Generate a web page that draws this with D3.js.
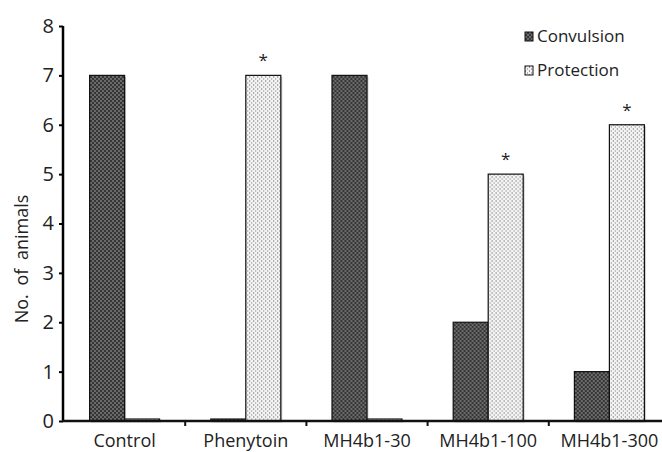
<!DOCTYPE html>
<html>
<head>
<meta charset="utf-8">
<script src="https://cdn.jsdelivr.net/npm/d3@7"></script>
<style>
  body { margin: 0; background: #fff; }
  text { font-family: "Open Sans", "Liberation Sans", sans-serif; fill: #222; }
</style>
</head>
<body>
<svg width="662" height="452"></svg>
<script>
const groups = ["Control", "Phenytoin", "MH4b1-30", "MH4b1-100", "MH4b1-300"];
const seriesNames = ["Convulsion", "Protection"];
const convulsion = [7, 0.04, 7, 2, 1];
const protection = [0.04, 7, 0.04, 5, 6];
const significant = [false, true, false, true, true];
const yTicks = [0, 1, 2, 3, 4, 5, 6, 7, 8];

const svg = d3.select("svg");
const defs = svg.append("defs");

// dark checker fill for convulsion
const p1 = defs.append("pattern").attr("id", "dark")
    .attr("patternUnits", "userSpaceOnUse").attr("width", 4).attr("height", 4);
p1.append("rect").attr("width", 4).attr("height", 4).attr("fill", "#363636");
p1.append("rect").attr("x", 0).attr("y", 0).attr("width", 2).attr("height", 2).attr("fill", "#6a6a6a");
p1.append("rect").attr("x", 2).attr("y", 2).attr("width", 2).attr("height", 2).attr("fill", "#6a6a6a");

// light dotted fill for protection
const p2 = defs.append("pattern").attr("id", "light")
    .attr("patternUnits", "userSpaceOnUse").attr("width", 4).attr("height", 4);
p2.append("rect").attr("width", 4).attr("height", 4).attr("fill", "#f4f4f4");
p2.append("rect").attr("x", 0).attr("y", 0).attr("width", 1).attr("height", 2).attr("fill", "#9a9a9a");
p2.append("rect").attr("x", 2).attr("y", 2).attr("width", 1).attr("height", 2).attr("fill", "#b0b0b0");

const fills = ["url(#dark)", "url(#light)"];

const x = d3.scaleBand().domain(groups).range([64, 670]);
const xSub = d3.scaleBand().domain(seriesNames).range([x.bandwidth() / 2 - 35, x.bandwidth() / 2 + 35]);
const y = d3.scaleLinear().domain([0, 8]).range([421, 26]);

const data = groups.map((g, i) => ({ g, vals: [convulsion[i], protection[i]], sig: significant[i] }));

const gGroup = svg.append("g").selectAll("g")
    .data(data).enter().append("g")
    .attr("transform", d => `translate(${x(d.g)},0)`);

const bars = gGroup.selectAll(".bar")
    .data(d => d.vals.map((v, k) => ({ k, v })))
    .enter();

// soft shadow
bars.append("rect")
    .attr("x", d => xSub(seriesNames[d.k]) + 1.5)
    .attr("y", d => y(d.v) + 1.5)
    .attr("width", xSub.bandwidth())
    .attr("height", d => y(0) - y(d.v))
    .attr("fill", "#cfcfcf");

bars.append("rect")
    .attr("x", d => xSub(seriesNames[d.k]))
    .attr("y", d => y(d.v))
    .attr("width", xSub.bandwidth())
    .attr("height", d => y(0) - y(d.v))
    .attr("fill", d => fills[d.k])
    .attr("stroke", "#111")
    .attr("stroke-width", 1.2);

gGroup.filter(d => d.sig).append("text")
    .attr("x", xSub("Protection") + xSub.bandwidth() / 2)
    .attr("y", d => y(d.vals[1]) - 9)
    .attr("text-anchor", "middle")
    .style("font-size", "17px")
    .text("*");

// axes
const yAxis = svg.append("g").attr("transform", "translate(63,0)")
    .call(d3.axisLeft(y).tickValues(yTicks).tickSize(4).tickFormat(d3.format("d")));
yAxis.select(".domain").attr("stroke-width", 2.5).attr("d", `M0,${y(8)}V${y(0)}`);
yAxis.selectAll(".tick line").attr("stroke-width", 2);
yAxis.selectAll(".tick text").attr("x", -9).style("font-size", "20px")
    .style("font-family", "'Open Sans', sans-serif").attr("fill", "#222");

const xAxis = svg.append("g").attr("transform", `translate(0,${y(0)})`);
xAxis.append("line").attr("x1", 62).attr("x2", 662).attr("stroke", "#111").attr("stroke-width", 2.5);
xAxis.selectAll(".tk")
    .data(groups.slice(1)).enter().append("line")
    .attr("x1", d => x(d)).attr("x2", d => x(d))
    .attr("y1", 0).attr("y2", 5)
    .attr("stroke", "#111").attr("stroke-width", 2);
xAxis.selectAll(".lbl")
    .data(groups).enter().append("text")
    .attr("x", d => x(d) + x.bandwidth() / 2)
    .attr("y", 26)
    .attr("text-anchor", "middle")
    .style("font-size", "18px")
    .text(d => d);

svg.append("text")
    .attr("transform", "translate(28,259) rotate(-90)")
    .attr("text-anchor", "middle")
    .style("font-size", "18px")
    .style("word-spacing", "4px")
    .text("No.  of  animals");

// legend
const legend = svg.append("g").selectAll("g")
    .data(seriesNames).enter().append("g")
    .attr("transform", (d, i) => `translate(525,${32 + i * 34})`);
legend.append("rect")
    .attr("width", 8).attr("height", 9)
    .attr("fill", (d, i) => fills[i])
    .attr("stroke", "#111").attr("stroke-width", 1);
legend.append("text")
    .attr("x", 12).attr("y", 10)
    .style("font-size", "17px")
    .text(d => d);
</script>
</body>
</html>
